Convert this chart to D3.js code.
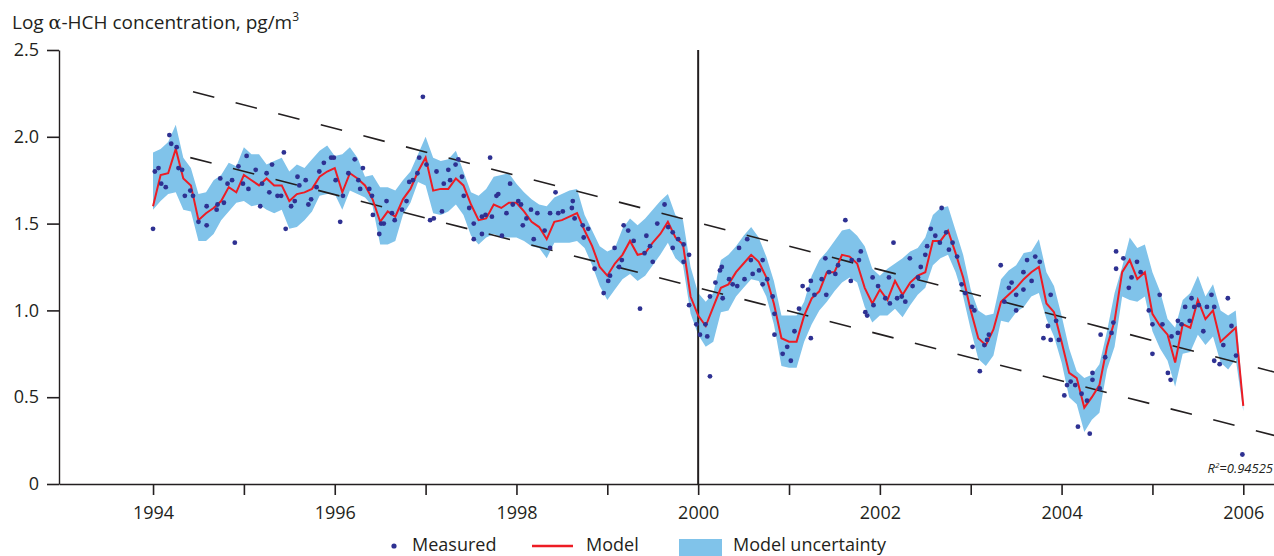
<!DOCTYPE html>
<html>
<head>
<meta charset="utf-8">
<script src="https://cdn.jsdelivr.net/npm/d3@7"></script>
<style>
  body { margin: 0; background: #fff; }
  svg { display: block; font-family: "Open Sans", sans-serif; }
  .axis path, .axis line { stroke: #231f20; }
  .axis text { fill: #231f20; font-size: 18px; font-family: "Open Sans", sans-serif; }
</style>
</head>
<body>
<div id="chart"></div>
<script>
// monthly model output, first value = Jan 1994
var modelStart = 1994;
var modelValues = [
  1.60, 1.78, 1.79, 1.93, 1.76, 1.72, 1.52, 1.56, 1.59, 1.63, 1.71, 1.68,
  1.78, 1.75, 1.72, 1.76, 1.72, 1.72, 1.63, 1.67, 1.68, 1.70, 1.77, 1.80,
  1.82, 1.68, 1.79, 1.76, 1.72, 1.64, 1.51, 1.57, 1.54, 1.64, 1.70, 1.80,
  1.88, 1.69, 1.70, 1.70, 1.76, 1.72, 1.61, 1.52, 1.53, 1.61, 1.59, 1.62,
  1.62, 1.57, 1.51, 1.48, 1.41, 1.51, 1.52, 1.54, 1.56, 1.46, 1.37, 1.25,
  1.20, 1.27, 1.32, 1.40, 1.32, 1.33, 1.39, 1.44, 1.51, 1.42, 1.38, 1.08,
  0.97, 0.91, 1.02, 1.13, 1.15, 1.22, 1.27, 1.32, 1.28, 1.19, 1.04, 0.84,
  0.82, 0.82, 0.97, 1.07, 1.11, 1.22, 1.22, 1.32, 1.31, 1.27, 1.13, 1.04,
  1.12, 1.06, 1.17, 1.09, 1.16, 1.20, 1.22, 1.40, 1.40, 1.46, 1.33, 1.19,
  1.00, 0.84, 0.80, 0.89, 1.05, 1.09, 1.13, 1.18, 1.22, 1.25, 1.04, 0.99,
  0.82, 0.64, 0.61, 0.44, 0.50, 0.57, 0.79, 0.94, 1.22, 1.29, 1.18, 1.22,
  0.98, 0.91, 0.86, 0.70, 0.92, 0.90, 1.06, 0.95, 1.00, 0.82, 0.86, 0.90,
  0.45
];
var bandLower = [
  1.58, 1.63, 1.67, 1.68, 1.58, 1.57, 1.40, 1.40, 1.44, 1.52, 1.57, 1.62,
  1.63, 1.60, 1.61, 1.58, 1.56, 1.58, 1.47, 1.48, 1.52, 1.57, 1.66, 1.67,
  1.67, 1.58, 1.69, 1.67, 1.65, 1.60, 1.38, 1.38, 1.40, 1.55, 1.62, 1.74,
  1.72, 1.56, 1.55, 1.57, 1.61, 1.55, 1.43, 1.38, 1.42, 1.44, 1.42, 1.42,
  1.42, 1.40, 1.37, 1.36, 1.30, 1.39, 1.39, 1.39, 1.40, 1.36, 1.26, 1.14,
  1.06, 1.12, 1.18, 1.21, 1.17, 1.20, 1.26, 1.32, 1.39, 1.30, 1.26, 0.98,
  0.86, 0.79, 0.82, 0.99, 1.00, 1.08, 1.13, 1.18, 1.17, 1.08, 0.92, 0.68,
  0.67, 0.67, 0.82, 0.92, 1.00, 1.05, 1.11, 1.16, 1.19, 1.16, 1.02, 0.93,
  0.97, 0.97, 1.01, 0.96, 1.03, 1.09, 1.13, 1.26, 1.30, 1.32, 1.22, 1.08,
  0.89, 0.72, 0.68, 0.74, 0.94, 0.93, 0.99, 1.02, 1.08, 1.10, 0.95, 0.85,
  0.70, 0.50, 0.46, 0.30, 0.37, 0.41, 0.66, 0.79, 1.08, 1.06, 1.05, 1.08,
  0.88, 0.78, 0.71, 0.56, 0.75, 0.76, 0.86, 0.80, 0.85, 0.70, 0.66, 0.72,
  0.42
];
var bandUpper = [
  1.91, 1.93, 1.97, 2.07, 1.88, 1.82, 1.67, 1.68, 1.75, 1.78, 1.85, 1.83,
  1.94, 1.90, 1.90, 1.84, 1.86, 1.88, 1.80, 1.84, 1.82, 1.87, 1.92, 1.95,
  1.89, 1.90, 1.94, 1.88, 1.77, 1.78, 1.71, 1.71, 1.69, 1.75, 1.80, 1.90,
  2.00, 1.88, 1.86, 1.87, 1.92, 1.80, 1.68, 1.66, 1.70, 1.77, 1.78, 1.79,
  1.73, 1.68, 1.64, 1.61, 1.60, 1.65, 1.67, 1.69, 1.70, 1.55, 1.46, 1.37,
  1.34, 1.36, 1.47, 1.53, 1.49, 1.53, 1.58, 1.63, 1.67, 1.55, 1.52, 1.25,
  1.10, 1.05, 1.10, 1.29, 1.32, 1.37, 1.43, 1.48, 1.42, 1.31, 1.17, 0.97,
  0.97, 0.97, 1.05, 1.20, 1.29, 1.34, 1.40, 1.46, 1.47, 1.43, 1.37, 1.24,
  1.20, 1.24, 1.27, 1.30, 1.34, 1.36, 1.42, 1.55, 1.59, 1.60, 1.46, 1.32,
  1.12, 1.00, 0.97, 0.98, 1.18, 1.23, 1.26, 1.33, 1.34, 1.41, 1.22, 1.14,
  0.97, 0.78, 0.65, 0.61, 0.63, 0.69, 0.88, 1.10, 1.25, 1.42, 1.36, 1.38,
  1.22, 1.11, 0.95, 0.90, 1.06, 1.10, 1.20, 1.08, 1.15, 1.00, 0.97, 1.00,
  0.47
];

// measured samples (decimal year, log concentration)
var measuredDates = [
  1994.00, 1994.02, 1994.06, 1994.09, 1994.14, 1994.18, 1994.20, 1994.26, 1994.28, 1994.32,
  1994.35, 1994.41, 1994.44, 1994.50, 1994.59, 1994.59, 1994.70, 1994.71, 1994.74, 1994.78,
  1994.82, 1994.87, 1994.90, 1994.94, 1994.99, 1995.03, 1995.05, 1995.13, 1995.18, 1995.20,
  1995.25, 1995.28, 1995.31, 1995.37, 1995.41, 1995.44, 1995.46, 1995.52, 1995.56, 1995.59,
  1995.61, 1995.68, 1995.71, 1995.74, 1995.80, 1995.83, 1995.88, 1995.96, 1995.99, 1996.01,
  1996.06, 1996.09, 1996.15, 1996.22, 1996.26, 1996.28, 1996.31, 1996.38, 1996.41, 1996.42,
  1996.49, 1996.51, 1996.54, 1996.57, 1996.63, 1996.66, 1996.74, 1996.79, 1996.82, 1996.86,
  1996.91, 1996.93, 1996.97, 1997.01, 1997.05, 1997.09, 1997.12, 1997.18, 1997.20, 1997.25,
  1997.27, 1997.33, 1997.36, 1997.40, 1997.42, 1997.48, 1997.53, 1997.53, 1997.62, 1997.62,
  1997.66, 1997.71, 1997.73, 1997.78, 1997.80, 1997.84, 1997.89, 1997.93, 1997.96, 1998.02,
  1998.05, 1998.07, 1998.11, 1998.16, 1998.19, 1998.23, 1998.31, 1998.37, 1998.37, 1998.43,
  1998.46, 1998.51, 1998.61, 1998.62, 1998.64, 1998.73, 1998.74, 1998.79, 1998.86, 1998.96,
  1999.01, 1999.03, 1999.08, 1999.13, 1999.16, 1999.18, 1999.23, 1999.29, 1999.36, 1999.41,
  1999.43, 1999.47, 1999.50, 1999.55, 1999.63, 1999.67, 1999.72, 1999.72, 1999.78, 1999.84,
  1999.84, 1999.90, 1999.90, 1999.98, 2000.02, 2000.08, 2000.10, 2000.13, 2000.13, 2000.19,
  2000.24, 2000.26, 2000.27, 2000.34, 2000.38, 2000.43, 2000.45, 2000.51, 2000.54, 2000.58,
  2000.60, 2000.67, 2000.71, 2000.71, 2000.76, 2000.82, 2000.84, 2000.84, 2000.93, 2000.98,
  2001.02, 2001.06, 2001.11, 2001.15, 2001.21, 2001.24, 2001.24, 2001.28, 2001.36, 2001.40,
  2001.41, 2001.44, 2001.51, 2001.54, 2001.62, 2001.68, 2001.69, 2001.77, 2001.79, 2001.84,
  2001.86, 2001.92, 2001.93, 2001.98, 2002.06, 2002.10, 2002.11, 2002.15, 2002.19, 2002.24,
  2002.28, 2002.33, 2002.36, 2002.42, 2002.45, 2002.50, 2002.52, 2002.56, 2002.61, 2002.66,
  2002.68, 2002.73, 2002.76, 2002.80, 2002.85, 2002.90, 2002.94, 2003.01, 2003.02, 2003.04,
  2003.10, 2003.15, 2003.18, 2003.20, 2003.33, 2003.37, 2003.42, 2003.45, 2003.50, 2003.50,
  2003.58, 2003.58, 2003.62, 2003.67, 2003.71, 2003.76, 2003.80, 2003.85, 2003.88, 2003.88,
  2003.94, 2003.97, 2004.03, 2004.06, 2004.10, 2004.15, 2004.18, 2004.22, 2004.28, 2004.31,
  2004.34, 2004.34, 2004.42, 2004.43, 2004.48, 2004.55, 2004.57, 2004.60, 2004.60, 2004.68,
  2004.74, 2004.77, 2004.83, 2004.87, 2004.96, 2005.00, 2005.00, 2005.08, 2005.11, 2005.17,
  2005.20, 2005.21, 2005.28, 2005.28, 2005.32, 2005.36, 2005.41, 2005.43, 2005.46, 2005.51,
  2005.56, 2005.60, 2005.65, 2005.68, 2005.68, 2005.74, 2005.78, 2005.83, 2005.87, 2005.92,
  2005.99
];
var measuredValues = [
  1.47, 1.80, 1.82, 1.73, 1.71, 2.01, 1.96, 1.94, 1.82, 1.81,
  1.66, 1.69, 1.66, 1.51, 1.49, 1.60, 1.58, 1.61, 1.76, 1.62,
  1.73, 1.75, 1.39, 1.83, 1.73, 1.89, 1.70, 1.81, 1.60, 1.73,
  1.79, 1.68, 1.84, 1.66, 1.66, 1.91, 1.47, 1.60, 1.63, 1.77,
  1.72, 1.75, 1.61, 1.64, 1.71, 1.80, 1.85, 1.88, 1.88, 1.75,
  1.51, 1.66, 1.79, 1.87, 1.75, 1.70, 1.82, 1.70, 1.66, 1.55,
  1.44, 1.50, 1.50, 1.63, 1.56, 1.52, 1.58, 1.63, 1.74, 1.75,
  1.79, 1.88, 2.23, 1.84, 1.52, 1.53, 1.80, 1.57, 1.73, 1.81,
  1.75, 1.84, 1.87, 1.77, 1.66, 1.59, 1.50, 1.41, 1.54, 1.44,
  1.55, 1.88, 1.54, 1.66, 1.67, 1.43, 1.56, 1.73, 1.61, 1.63,
  1.61, 1.49, 1.53, 1.58, 1.41, 1.56, 1.46, 1.56, 1.36, 1.68,
  1.56, 1.57, 1.59, 1.63, 1.53, 1.49, 1.42, 1.47, 1.24, 1.10,
  1.17, 1.20, 1.36, 1.25, 1.29, 1.49, 1.46, 1.40, 1.01, 1.33,
  1.43, 1.37, 1.28, 1.50, 1.61, 1.48, 1.45, 1.36, 1.41, 1.38,
  1.28, 1.32, 1.03, 0.92, 0.86, 0.92, 0.85, 1.08, 0.62, 1.16,
  1.23, 1.25, 1.07, 1.18, 1.15, 1.14, 1.36, 1.18, 1.41, 1.29,
  1.21, 1.23, 1.29, 1.15, 1.18, 1.08, 0.98, 0.86, 0.75, 0.79,
  0.71, 0.88, 1.01, 1.14, 1.12, 1.17, 0.84, 1.09, 1.18, 1.30,
  1.09, 1.22, 1.21, 1.26, 1.52, 1.17, 1.29, 1.29, 1.34, 0.99,
  0.97, 1.19, 1.03, 1.14, 1.07, 1.19, 1.04, 1.39, 1.07, 1.08,
  1.05, 1.30, 1.14, 1.19, 1.25, 1.32, 1.37, 1.47, 1.43, 1.39,
  1.59, 1.45, 1.35, 1.39, 1.31, 1.15, 1.10, 1.02, 0.79, 1.00,
  0.65, 0.80, 0.83, 0.86, 1.26, 1.05, 1.13, 1.16, 1.09, 1.00,
  1.22, 1.12, 1.29, 1.17, 1.31, 1.28, 0.84, 0.91, 1.09, 0.83,
  0.94, 0.83, 0.51, 0.57, 0.59, 0.57, 0.33, 0.52, 0.48, 0.29,
  0.64, 0.60, 0.55, 0.86, 0.73, 0.87, 0.93, 1.34, 1.24, 1.30,
  1.13, 1.19, 1.28, 1.22, 1.00, 0.92, 0.75, 1.09, 0.92, 0.64,
  0.60, 0.85, 0.94, 0.87, 0.92, 1.02, 0.94, 1.07, 1.02, 1.03,
  0.88, 1.02, 1.09, 1.02, 0.71, 0.69, 0.80, 1.07, 0.91, 0.74,
  0.17
];

// dashed trend envelope (start, end)
var trendUpperDates = [1994.44, 2006.34];
var trendUpperValues = [2.26, 0.645];
var trendLowerDates = [1994.41, 2006.34];
var trendLowerValues = [1.88, 0.28];

var yTicks = [0, 0.5, 1.0, 1.5, 2.0, 2.5];
var yearTicks = [1994, 1995, 1996, 1997, 1998, 1999, 2000, 2001, 2002, 2003, 2004, 2005, 2006];
var splitYear = 2000;
var legendLabels = ["Measured", "Model", "Model uncertainty"];

var W = 1274, H = 556;
var ink = "#231f20", navy = "#2e3192", red = "#ed1c24", blue = "#80c3ea";

var x = d3.scaleLinear().domain([1992.965, 2006.338]).range([59, 1274]);
var y = d3.scaleLinear().domain([0, 2.5]).range([484, 50]);

var svg = d3.select("#chart").append("svg")
  .attr("width", W)
  .attr("height", H);

var monthly = modelValues.map(function (v, i) {
  return { t: modelStart + i / 12, v: v, lo: bandLower[i], hi: bandUpper[i] };
});

// uncertainty band
var band = d3.area()
  .x(function (d) { return x(d.t); })
  .y0(function (d) { return y(d.lo); })
  .y1(function (d) { return y(d.hi); });

svg.append("path")
  .datum(monthly)
  .attr("fill", blue)
  .attr("d", band);

// trend lines
var trendLine = d3.line()
  .x(function (d) { return x(d[0]); })
  .y(function (d) { return y(d[1]); });

[[trendUpperDates, trendUpperValues], [trendLowerDates, trendLowerValues]].forEach(function (tr) {
  svg.append("path")
    .datum(d3.zip(tr[0], tr[1]))
    .attr("fill", "none")
    .attr("stroke", ink)
    .attr("stroke-width", 1.6)
    .attr("stroke-dasharray", "22,22")
    .attr("d", trendLine);
});

// vertical marker at 2000
svg.append("line")
  .attr("x1", x(splitYear)).attr("x2", x(splitYear))
  .attr("y1", y(2.5)).attr("y2", y(0))
  .attr("stroke", ink)
  .attr("stroke-width", 2);

// model line
var modelLine = d3.line()
  .x(function (d) { return x(d.t); })
  .y(function (d) { return y(d.v); });

svg.append("path")
  .datum(monthly)
  .attr("fill", "none")
  .attr("stroke", red)
  .attr("stroke-width", 2)
  .attr("d", modelLine);

// measured dots
svg.append("g")
  .selectAll("circle")
  .data(d3.zip(measuredDates, measuredValues))
  .join("circle")
  .attr("cx", function (d) { return x(d[0]); })
  .attr("cy", function (d) { return y(d[1]); })
  .attr("r", 2.4)
  .attr("fill", navy);

// axes
svg.append("g")
  .attr("class", "axis")
  .attr("transform", "translate(59,0)")
  .call(d3.axisLeft(y).tickValues(yTicks).tickSize(12).tickSizeOuter(0).tickPadding(8)
    .tickFormat(function (d) { return d === 0 ? "0" : d3.format(".1f")(d); }));

svg.append("g")
  .attr("class", "axis")
  .attr("transform", "translate(0,484)")
  .call(d3.axisBottom(x).tickValues(yearTicks).tickSize(11).tickSizeOuter(0).tickPadding(11)
    .tickFormat(function (d) { return d % 2 === 0 ? d : ""; }));

svg.selectAll(".axis path").attr("stroke-width", 1.4);
svg.selectAll(".axis line").attr("stroke-width", 1.6);

// y title
var title = svg.append("text")
  .attr("x", 12)
  .attr("y", 29)
  .attr("fill", ink)
  .style("font-size", "19px");
title.append("tspan").text("Log ");
title.append("tspan").style("font-family", "'DejaVu Serif', serif").text("α");
title.append("tspan").text("-HCH concentration, pg/m");
title.append("tspan").attr("dy", -8).style("font-size", "12px").text("3");

// R squared
var r2 = svg.append("text")
  .attr("x", 1273)
  .attr("y", 473)
  .attr("text-anchor", "end")
  .attr("fill", ink)
  .style("font-size", "13px")
  .style("font-style", "italic");
r2.append("tspan").text("R");
r2.append("tspan").attr("dy", -5).style("font-size", "8px").text("2");
r2.append("tspan").attr("dy", 5).text("=0.94525");

// legend
var lg = svg.append("g").style("font-size", "18px").attr("fill", ink);
lg.append("circle").attr("cx", 394).attr("cy", 546).attr("r", 2.6).attr("fill", navy);
lg.append("text").attr("x", 412).attr("y", 551).text(legendLabels[0]);
lg.append("line").attr("x1", 532).attr("x2", 573).attr("y1", 546).attr("y2", 546)
  .attr("stroke", red).attr("stroke-width", 2.5);
lg.append("text").attr("x", 586).attr("y", 551).text(legendLabels[1]);
lg.append("rect").attr("x", 679).attr("y", 539).attr("width", 43).attr("height", 17).attr("fill", blue);
lg.append("text").attr("x", 733).attr("y", 551).text(legendLabels[2]);
</script>
</body>
</html>
